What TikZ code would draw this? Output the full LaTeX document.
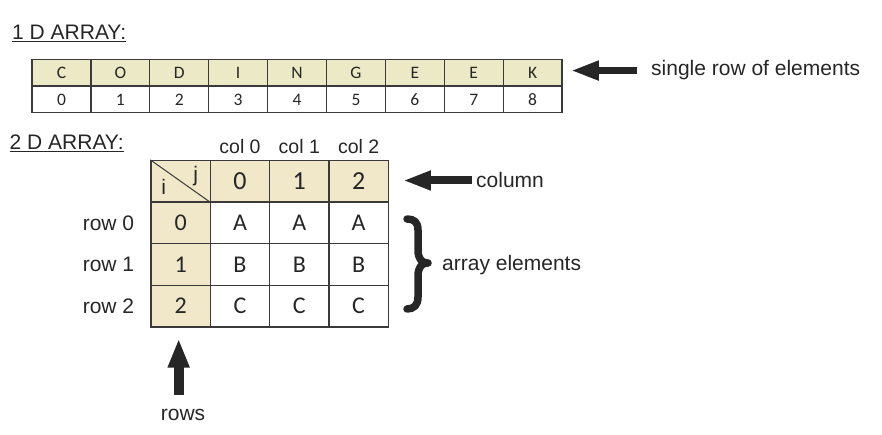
\documentclass[tikz,border=0pt]{standalone}
\usepackage{fontspec}
\setmainfont{Liberation Sans}
\newfontfamily\calib{Carlito}
\usetikzlibrary{arrows.meta}
\usetikzlibrary{positioning}
\definecolor{ink}{HTML}{262626}
\definecolor{grid}{HTML}{3A3A3A}
\definecolor{tanA}{HTML}{ECEAC6}
\definecolor{tanB}{HTML}{F1E8CA}
\newsavebox{\headbox}
\newcommand{\ulhead}[1]{\sbox{\headbox}{#1}%
    \rlap{\rule[-3.2pt]{\wd\headbox}{1.4pt}}\usebox{\headbox}}

\begin{document}
\begin{tikzpicture}[x=1pt, y=-1pt, ink,
        cell/.style={draw=grid, line width=1.3pt, inner sep=0pt,
            minimum width=58.9pt, minimum height=25.75pt,
            font=\calib\fontsize{17.5}{18}\selectfont},
        gcell/.style={draw=grid, line width=1.3pt, inner sep=0pt,
            minimum width=59.3pt, minimum height=41.6pt,
            font=\calib\fontsize{24}{26}\selectfont},
        lbl/.style={inner sep=0pt, font=\fontsize{21}{23}\selectfont},
        blk/.style={line width=8pt, -{Triangle[length=28pt, width=18pt]}}]
        \useasboundingbox (0,0) rectangle (882,435);

        % 1 D array
        \node[lbl, anchor=base west] (t1) at (12,39.3) {\ulhead{1 D ARRAY:}};
        \foreach \ch [count=\k from 0] in {C,O,D,I,N,G,E,E,K} {
            \node[cell, fill=tanA] (c\k) at (61.45+58.9*\k,72.4) {\ch};
            \node[cell, below=0pt of c\k] (n\k) {\k};
        }
        \node[lbl, anchor=base west] (single) at (651,76)
            {single row of elements};
        \draw[blk, line width=7pt, shorten <=14pt, shorten >=8pt]
            (single.west) -- (single.west -| c8.east);

        % 2 D array
        \node[lbl, anchor=base west] (t2) at (9.5,149.3) {\ulhead{2 D ARRAY:}};
        \node[gcell, fill=tanB] (ij) at (180.65,181.3) {};
        \draw[grid, line width=1pt] (ij.north west) -- (ij.south east);
        \node[lbl, font=\fontsize{21}{22}\selectfont] (j) at ([shift={(15,-5)}]ij.center) {j};
        \node[lbl, font=\fontsize{21}{22}\selectfont] (i) at ([shift={(-17,6)}]ij.center) {i};
        \foreach \c in {0,1,2} {
            \node[gcell, fill=tanB, font=\calib\fontsize{26}{28}\selectfont]
                (h\c) at (240+59.3*\c,181.3) {\c};
            \node[lbl, anchor=base, font=\fontsize{19.5}{21}\selectfont]
                (col\c) at ([yshift=6.5pt]h\c.north) {col \c};
        }
        \foreach \r/\ltr in {0/A,1/B,2/C} {
            \node[gcell, fill=tanB] (r\r) at (180.65,222.9+41.6*\r) {\r};
            \node[lbl, anchor=base east] (row\r)
                at ([xshift=-16pt, yshift=-7.5pt]r\r.west) {row \r};
            \foreach \c in {0,1,2}
                \node[gcell] (e\r\c) at (240+59.3*\c,222.9+41.6*\r) {\ltr};
        }
        \node[lbl, anchor=base west] (colm) at (476,188) {column};
        \draw[blk, shorten <=4pt, shorten >=14pt]
            (colm.west) -- (colm.west -| h2.east);

        % brace
        \draw[line width=7.5pt, line cap=round, line join=round]
            (407,219) .. controls (414,219) and (418,222) .. (418,230)
            -- (418,250) .. controls (418,258) and (421,263) .. (428,263)
            .. controls (421,263) and (418,268) .. (418,276)
            -- (418,297) .. controls (418,305) and (414,309) .. (407,309);
        \node[lbl, anchor=base west] (elems) at (442,270) {array elements};

        \node[lbl, anchor=base] (rows) at (183,420) {rows};
        \draw[blk, line width=10pt, -{Triangle[length=29pt, width=20pt]},
            shorten <=14pt, shorten >=11pt]
            ([xshift=-2pt]r2.south |- rows.north) -- ([xshift=-2pt]r2.south);
\end{tikzpicture}
\end{document}
